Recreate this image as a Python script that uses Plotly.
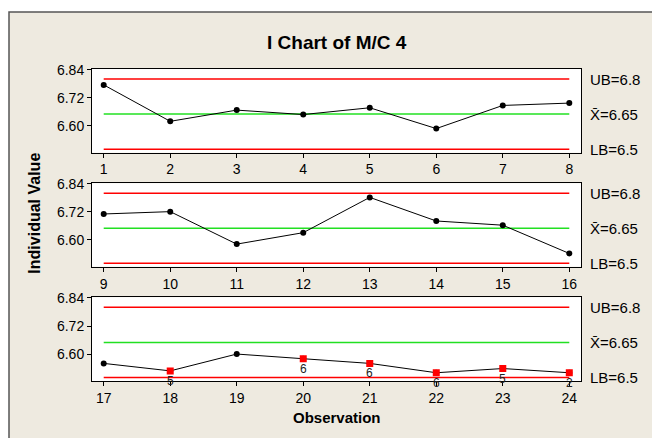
import plotly.graph_objects as go

# Individual measurements for machine M/C 4, observations 1-24
observation = list(range(1, 25))
individual_value = [6.775, 6.619, 6.667, 6.648, 6.677, 6.588, 6.687, 6.697,
                    6.711, 6.721, 6.582, 6.631, 6.782, 6.681, 6.663, 6.542,
                    6.560, 6.528, 6.600, 6.580, 6.560, 6.520, 6.538, 6.520]

# Control limits
ub = 6.8
center = 6.65
lb = 6.5

# Observations flagged by test rules (observation -> failed test number)
flag_obs = [18, 20, 21, 22, 23, 24]
flag_test = ["5", "6", "6", "6", "5", "2"]

y_ticks = [6.60, 6.72, 6.84]
panels = [(1, 8), (9, 16), (17, 24)]

W, H = 652, 438
FONT = "Liberation Sans, Arial, sans-serif"
BG = "#EEEAE0"

# plot box pixel geometry
x0_px, x1_px = 92, 581
rows_px = [(63, 148), (179, 264), (295, 380)]

fig = go.Figure()

# outer frame
fig.add_shape(type="rect", xref="paper", yref="paper",
              x0=9 / W, x1=1.05, y0=-0.05, y1=1 - 5 / H,
              fillcolor=BG, line=dict(color="#555555", width=1.5), layer="below")

for i, (a, b) in enumerate(panels):
    n = i + 1
    xa = "x" if n == 1 else f"x{n}"
    ya = "y" if n == 1 else f"y{n}"
    xs = observation[a - 1:b]
    ys = individual_value[a - 1:b]

    # white plotting area on top of the frame fill
    fig.add_shape(type="rect", xref=f"{xa} domain", yref=f"{ya} domain",
                  x0=0, x1=1, y0=0, y1=1, fillcolor="white",
                  line=dict(width=0), layer="below")

    # limit lines
    for val, col in [(ub, "#FF0000"), (center, "#22E022"), (lb, "#FF0000")]:
        fig.add_trace(go.Scatter(x=[a, b], y=[val, val], mode="lines",
                                 line=dict(color=col, width=1.5),
                                 xaxis=xa, yaxis=ya, hoverinfo="skip"))

    fig.add_trace(go.Scatter(x=xs, y=ys, mode="lines+markers",
                             line=dict(color="black", width=1),
                             marker=dict(color="black", size=6, symbol="circle"),
                             xaxis=xa, yaxis=ya))

    # flagged points
    fx = [o for o in flag_obs if a <= o <= b]
    fy = [individual_value[o - 1] for o in fx]
    if fx:
        fig.add_trace(go.Scatter(x=fx, y=fy, mode="markers",
                                 marker=dict(color="#FF0000", size=7, symbol="square"),
                                 xaxis=xa, yaxis=ya))
        for o, t in zip(flag_obs, flag_test):
            if a <= o <= b:
                fig.add_annotation(x=o, y=individual_value[o - 1], xref=xa, yref=ya,
                                   text=t, showarrow=False, yshift=-10,
                                   xanchor="center", yanchor="middle",
                                   font=dict(family=FONT, size=12, color="#222"))

    top, bot = rows_px[i]
    fig.layout[("xaxis" if n == 1 else f"xaxis{n}")] = dict(
        domain=[x0_px / W, x1_px / W], anchor=ya, range=[a - 0.176, b + 0.176],
        tickmode="array", tickvals=xs, ticktext=[str(v) for v in xs],
        ticks="outside", ticklen=4, tickcolor="black", showgrid=False,
        zeroline=False, showline=True, linecolor="black", linewidth=1, mirror=True,
        tickfont=dict(family=FONT, size=14, color="black"))
    fig.layout[("yaxis" if n == 1 else f"yaxis{n}")] = dict(
        domain=[1 - bot / H, 1 - top / H], anchor=xa, range=[6.485, 6.843],
        tickmode="array", tickvals=y_ticks, ticktext=[f"{v:.2f}" for v in y_ticks],
        ticks="outside", ticklen=4, tickcolor="black", showgrid=False,
        zeroline=False, showline=True, linecolor="black", linewidth=1, mirror=True,
        tickfont=dict(family=FONT, size=14, color="black"))

    # limit labels at the right of each panel
    for val, txt in [(ub, f"UB={ub:g}"), (center, f"X\u0304={center:g}"), (lb, f"LB={lb:g}")]:
        fig.add_annotation(x=588 / W, xref="paper", y=val, yref=ya, text=txt,
                           showarrow=False, xanchor="left", yanchor="middle",
                           font=dict(family=FONT, size=15, color="black"))

fig.add_annotation(x=337 / W, y=1 - 36 / H, xref="paper", yref="paper",
                   text="<b>I Chart of M/C 4</b>", showarrow=False,
                   xanchor="center", yanchor="middle",
                   font=dict(family=FONT, size=19, color="black"))
fig.add_annotation(x=337 / W, y=1 - 417 / H, xref="paper", yref="paper",
                   text="<b>Observation</b>", showarrow=False,
                   xanchor="center", yanchor="middle",
                   font=dict(family=FONT, size=15, color="black"))
fig.add_annotation(x=35 / W, y=1 - 210 / H, xref="paper", yref="paper",
                   text="<b>Individual Value</b>", showarrow=False, textangle=-90,
                   xanchor="center", yanchor="middle",
                   font=dict(family=FONT, size=16, color="black"))

fig.update_layout(width=W, height=H, margin=dict(l=0, r=0, t=0, b=0),
                  paper_bgcolor="white", plot_bgcolor="white", showlegend=False)

fig.write_html("out.html")
